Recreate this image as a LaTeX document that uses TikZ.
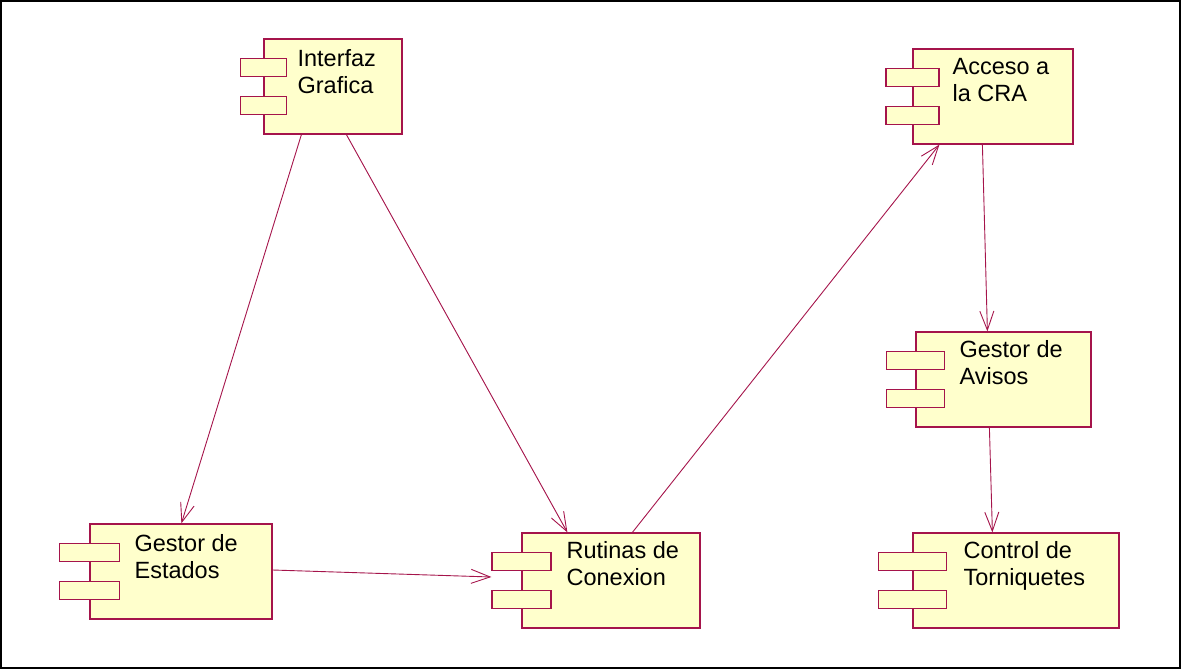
\documentclass[tikz,border=0pt]{standalone}
\usepackage{fontspec}
\setmainfont{Liberation Sans}
\usetikzlibrary{arrows.meta}
\definecolor{compfill}{RGB}{255,255,204}
\definecolor{compline}{RGB}{165,20,75}
\begin{document}
\begin{tikzpicture}[x=1pt, y=-1pt,
        comp/.style={draw=compline, fill=compfill, line width=1.2pt, minimum height=95pt, inner sep=0pt},
        port/.style={draw=compline, fill=compfill, line width=1.2pt, minimum height=18.5pt, inner sep=0pt},
        label/.style={anchor=north west, inner sep=0pt, align=left, font=\fontsize{23.5}{27}\selectfont},
        dep/.style={draw=compline, line width=0.9pt, -{Straight Barb[length=19pt, width=14pt, line width=0.9pt]}}]
        \useasboundingbox (0, 0) rectangle (1181, 669);
        \draw[line width=2pt] (1, 1) rectangle (1180, 668);
        % componentes
        \node[comp, minimum width=138pt] (gui) at (333, 86.5) {};
        \node[comp, minimum width=182pt] (estados) at (181, 571.5) {};
        \node[comp, minimum width=178pt] (rutinas) at (611, 580.5) {};
        \node[comp, minimum width=160pt] (cra) at (993, 96.5) {};
        \node[comp, minimum width=175pt] (avisos) at (1003.5, 379.5) {};
        \node[comp, minimum width=206pt] (torniq) at (1016, 580.5) {};
        \foreach \c/\w in {gui/46, estados/60, rutinas/59, cra/53, avisos/58, torniq/68} {
                \node[port, minimum width=\w pt] (\c-a) at ([yshift=-19]\c.west) {};
                \node[port, minimum width=\w pt] (\c-b) at ([yshift=19]\c.west) {};
            }
        \node[label] (gui-t) at ([shift={(34, 11)}]gui.north west) {Interfaz\\Grafica};
        \node[label] (estados-t) at ([shift={(45, 11)}]estados.north west) {Gestor de\\Estados};
        \node[label] (rutinas-t) at ([shift={(45, 9)}]rutinas.north west) {Rutinas de\\Conexion};
        \node[label] (cra-t) at ([shift={(40, 10)}]cra.north west) {Acceso a\\la CRA};
        \node[label] (avisos-t) at ([shift={(44, 9)}]avisos.north west) {Gestor de\\Avisos};
        \node[label] (torniq-t) at ([shift={(51, 9)}]torniq.north west) {Control de\\Torniquetes};
        % dependencias
        \draw[dep] ([xshift=38]gui.south west) -- ([xshift=92]estados.north west);
        \draw[dep] ([xshift=83]gui.south west) -- ([xshift=46]rutinas.north west);
        \draw[dep] ([yshift=1.5]estados.east) -- ([shift={(-30, -3.5)}]rutinas.west);
        \draw[dep] ([xshift=111]rutinas.north west) -- ([xshift=27]cra.south west);
        \draw[dep] ([xshift=70]cra.south west) -- ([xshift=72]avisos.north west);
        \draw[dep] ([xshift=74]avisos.south west) -- ([xshift=80]torniq.north west);
    \end{tikzpicture}
\end{document}
